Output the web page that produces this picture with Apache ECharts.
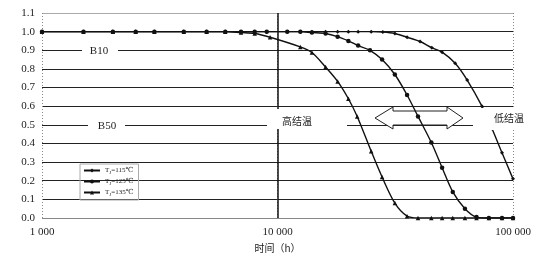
<!DOCTYPE html>
<html>
<head>
<meta charset="utf-8">
<script src="https://cdn.jsdelivr.net/npm/echarts@6/dist/echarts.min.js"></script>
<style>html,body{margin:0;padding:0;background:#fff;}#c{width:555px;height:258px;}</style>
</head>
<body>
<div id="c"></div>
<script>
// ---- data ----
var seriesNames = ['TJ=115℃', 'TJ=125℃', 'TJ=135℃'];
var t115 = [1000,1500,2000,2500,3000,4000,5000,6000,7000,8000,9000,11000,12500,14000,16000,18000,20000,22000,25000,28000,31500,35500,40300,45200,50000,56800,63900,73800,81400,89800,100000];
var v115 = [1,1,1,1,1,1,1,1,1,1,1,1,1,1,1,1,1,1,1,0.998,0.99,0.97,0.947,0.914,0.89,0.83,0.74,0.6,0.48,0.35,0.21];
var t125 = [1000,1500,2000,2500,3000,4000,5000,6000,7000,8000,9000,11000,12500,14000,16000,18000,20000,22000,24700,27800,31500,35500,39500,45000,50000,55500,62500,70000,79000,89800,100000];
var v125 = [1,1,1,1,1,1,1,1,1,1,1,1,1,0.995,0.99,0.973,0.95,0.925,0.9,0.85,0.77,0.66,0.545,0.405,0.27,0.14,0.05,0.005,0,0,0];
var t135 = [1000,1500,2000,2500,3000,4000,5000,6000,7000,8000,9300,12500,14000,16000,18000,20000,21800,25000,27800,31500,35500,39500,45000,50000,55500,62500,70000,79000,89800,100000];
var v135 = [1,1,1,1,1,1,1,1,0.995,0.99,0.97,0.918,0.888,0.81,0.733,0.64,0.545,0.358,0.22,0.08,0.01,0,0,0,0,0,0,0,0,0];
var xTickValues = [1000, 10000, 100000];
var xTickLabels = ['1 000', '10 000', '100 000'];
var xAxisName = '时间（h）';
var divider = 10000;

function pairs(t, v) { return t.map(function (x, i) { return [x, v[i]]; }); }

var serif = '"Liberation Serif", "DejaVu Serif", serif';
var cjk = '"Noto Sans CJK SC", sans-serif';
var gridColors = ['#888'];
for (var i = 0; i < 10; i++) gridColors.push('#222');
gridColors.push('#aaa');

var chart = echarts.init(document.getElementById('c'), null, {renderer: 'canvas'});
var lineStyle = {color: '#111', width: 1.4};
var option = {
  animation: false,
  backgroundColor: '#fff',
  grid: {left: 42, right: 42, top: 13, bottom: 39},
  xAxis: {
    type: 'log', logBase: 10, min: 1000, max: 100000,
    axisLine: {show: false}, axisTick: {show: false},
    axisLabel: {
      margin: 9, fontFamily: serif, fontSize: 11, color: '#222',
      formatter: function (v) { var k = xTickValues.indexOf(Math.round(v)); return k >= 0 ? xTickLabels[k] : ''; }
    },
    splitLine: {show: true, lineStyle: {color: '#888', type: [1, 2], width: 1}},
    name: xAxisName, nameLocation: 'middle', nameGap: 25,
    nameTextStyle: {fontFamily: cjk, fontSize: 10, color: '#222'}
  },
  yAxis: {
    type: 'value', min: 0, max: 1.1, interval: 0.1,
    axisLine: {show: false}, axisTick: {show: false},
    axisLabel: {margin: 7, fontFamily: serif, fontSize: 11, color: '#222',
      formatter: function (v) { return v.toFixed(1); }},
    splitLine: {show: true, lineStyle: {color: gridColors, width: 1.2}}
  },
  legend: {
    orient: 'vertical', left: 80, top: 164,
    itemWidth: 16, itemHeight: 5, itemGap: 3,
    padding: [3, 5, 3, 3],
    borderColor: '#aaa', borderWidth: 1,
    textStyle: {fontFamily: serif, fontSize: 7, color: '#222',
      rich: {t: {fontSize: 7, fontFamily: serif}, s: {fontSize: 5, fontFamily: serif, padding: [4, 0, 0, 0]}}},
    formatter: function (n) { return '{t|T}{s|J}{t|' + n.slice(2) + '}'; },
    data: seriesNames
  },
  series: [
    {name: seriesNames[0], type: 'line', data: pairs(t115, v115), smooth: 0.3,
     symbol: 'diamond', symbolSize: 4, lineStyle: lineStyle, itemStyle: {color: '#111'}, z: 3},
    {name: seriesNames[1], type: 'line', data: pairs(t125, v125), smooth: 0.3,
     symbol: 'circle', symbolSize: 4.5, lineStyle: lineStyle, itemStyle: {color: '#111'}, z: 3,
     markLine: {silent: true, symbol: 'none', label: {show: false},
       lineStyle: {color: '#111', type: 'solid', width: 1.5}, data: [{xAxis: divider}]}},
    {name: seriesNames[2], type: 'line', data: pairs(t135, v135), smooth: 0.3,
     symbol: 'triangle', symbolSize: 4.5, lineStyle: lineStyle, itemStyle: {color: '#111'}, z: 3}
  ],
  graphic: [
    // cover gaps & labels
    {type: 'rect', shape: {x: 82, y: 46, width: 36, height: 10}, style: {fill: '#fff'}, z: 100},
    {type: 'text', x: 99, y: 51, style: {text: 'B10', font: '11px ' + serif, fill: '#222', align: 'center', verticalAlign: 'middle'}, z: 101},
    {type: 'rect', shape: {x: 88, y: 120, width: 37, height: 11}, style: {fill: '#fff'}, z: 100},
    {type: 'text', x: 107, y: 126, style: {text: 'B50', font: '11px ' + serif, fill: '#222', align: 'center', verticalAlign: 'middle'}, z: 101},
    {type: 'rect', shape: {x: 267, y: 109, width: 80, height: 20}, style: {fill: '#fff'}, z: 100},
    {type: 'text', x: 297, y: 121, style: {text: '高结温', font: '10px ' + cjk, fill: '#222', align: 'center', verticalAlign: 'middle'}, z: 101},
    {type: 'rect', shape: {x: 473, y: 108, width: 60, height: 22}, style: {fill: '#fff'}, z: 100},
    {type: 'text', x: 509, y: 118, style: {text: '低结温', font: '10px ' + cjk, fill: '#222', align: 'center', verticalAlign: 'middle'}, z: 101},
    // hollow double arrow
    {type: 'polygon', z: 1,
     shape: {points: [[375,118],[393,107],[393,111],[447,111],[447,107],[463,118],[447,129],[447,125],[393,125],[393,129]]},
     style: {fill: '#fff', stroke: '#222', lineWidth: 1}}
  ]
};
chart.setOption(option);
</script>
</body>
</html>
